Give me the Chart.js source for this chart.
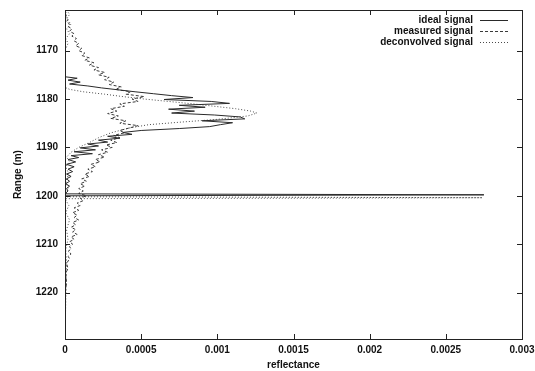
<!DOCTYPE html>
<html>
<head>
<meta charset="utf-8">
<script src="https://cdn.jsdelivr.net/npm/chart.js@4.4.1/dist/chart.umd.min.js"></script>
<style>
  html, body { margin: 0; padding: 0; background: #fff; }
  canvas { display: block; }
</style>
</head>
<body>
<canvas id="chart" width="535" height="371"></canvas>
<script>
// data (range in m, reflectance)
const xTicks = [0, 0.0005, 0.001, 0.0015, 0.002, 0.0025, 0.003];
const xTickLabels = ['0', '0.0005', '0.001', '0.0015', '0.002', '0.0025', '0.003'];
const yTicks = [1170, 1180, 1190, 1200, 1210, 1220];
const yTickLabels = ['1170', '1180', '1190', '1200', '1210', '1220'];

const seriesNames = ['ideal signal', 'measured signal', 'deconvolved signal'];

const idealRange = [
  1161.6, 1175.4, 1175.7, 1176.1, 1176.5, 1176.9, 1177.3, 1177.7, 1178.1, 1178.5,
  1178.9, 1179.3, 1179.7, 1180.1, 1180.5, 1180.9, 1181.3, 1181.7, 1182.1, 1182.5,
  1182.9, 1183.3, 1183.7, 1184.1, 1184.5, 1184.9, 1185.3, 1185.7, 1186.1, 1186.5,
  1186.9, 1187.3, 1187.7, 1188.1, 1188.5, 1188.9, 1189.3, 1189.7, 1190.1, 1190.5,
  1190.9, 1191.3, 1191.7, 1192.1, 1192.5, 1193.0, 1193.5, 1194.0, 1194.5, 1195.0,
  1195.5, 1196.0, 1196.5, 1197.0, 1197.5, 1198.0, 1198.5, 1199.0, 1199.6, 1199.8,
  1200.0, 1229.6
];
const idealValue = [
  0, 0, 0.8e-4, 0.2e-4, 1.0e-4, 0.3e-4, 1.5e-4, 2.4e-4, 3.5e-4, 4.6e-4,
  5.8e-4, 7.0e-4, 8.4e-4, 6.5e-4, 9.6e-4, 10.8e-4, 7.5e-4, 9.2e-4, 6.8e-4, 8.5e-4,
  7.0e-4, 9.8e-4, 11.5e-4, 11.8e-4, 9.0e-4, 11.0e-4, 10.2e-4, 9.5e-4, 7.5e-4, 5.0e-4,
  3.8e-4, 4.4e-4, 2.8e-4, 3.6e-4, 2.2e-4, 2.8e-4, 1.5e-4, 2.2e-4, 1.0e-4, 2.0e-4,
  0.6e-4, 1.8e-4, 0.4e-4, 0.9e-4, 0.2e-4, 0.7e-4, 0.1e-4, 0.6e-4, 0.2e-4, 0.5e-4,
  0.1e-4, 0.4e-4, 0.1e-4, 0.3e-4, 0.05e-4, 0.3e-4, 0.1e-4, 0.2e-4, 0, 27.5e-4,
  0, 0
];

const measuredRange = [
  1161.6, 1162.5, 1163.0, 1163.5, 1164.0, 1164.5, 1165.0, 1165.5, 1166.0, 1166.5,
  1167.0, 1167.5, 1168.0, 1168.5, 1169.0, 1169.5, 1170.0, 1170.5, 1171.0, 1171.5,
  1172.0, 1172.5, 1173.0, 1173.5, 1174.0, 1174.5, 1175.0, 1175.5, 1176.0, 1176.5,
  1177.0, 1177.5, 1178.0, 1178.5, 1179.0, 1179.5, 1180.0, 1180.5, 1181.0, 1181.5,
  1182.0, 1182.5, 1183.0, 1183.5, 1184.0, 1184.5, 1185.0, 1185.5, 1186.0, 1186.5,
  1187.0, 1187.5, 1188.0, 1188.5, 1189.0, 1189.5, 1190.0, 1190.5, 1191.0, 1191.5,
  1192.0, 1192.5, 1193.0, 1193.5, 1194.0, 1194.5, 1195.0, 1195.5, 1196.0, 1196.5,
  1197.0, 1197.5, 1198.0, 1198.5, 1199.0, 1199.5, 1200.0, 1200.5, 1201.0, 1201.5,
  1202.0, 1202.5, 1203.0, 1203.5, 1204.0, 1204.5, 1205.0, 1205.5, 1206.0, 1206.5,
  1207.0, 1207.5, 1208.0, 1208.5, 1209.0, 1209.5, 1210.0, 1210.5, 1211.0, 1211.5,
  1212.0, 1212.5, 1213.0, 1214.0, 1215.0, 1216.0, 1218.0, 1220.0, 1229.6
];
const measuredValue = [
  0, 0.1e-4, 0.05e-4, 0.2e-4, 0.1e-4, 0.3e-4, 0.2e-4, 0.45e-4, 0.3e-4, 0.6e-4,
  0.45e-4, 0.75e-4, 0.6e-4, 0.9e-4, 0.7e-4, 1.1e-4, 0.9e-4, 1.3e-4, 1.1e-4, 1.6e-4,
  1.3e-4, 1.9e-4, 1.6e-4, 2.2e-4, 1.9e-4, 2.6e-4, 2.2e-4, 2.9e-4, 2.6e-4, 3.2e-4,
  2.9e-4, 3.7e-4, 3.3e-4, 4.3e-4, 4.0e-4, 5.2e-4, 4.4e-4, 4.8e-4, 3.6e-4, 3.9e-4,
  3.0e-4, 3.4e-4, 2.8e-4, 3.5e-4, 3.0e-4, 4.0e-4, 3.6e-4, 4.8e-4, 4.2e-4, 3.6e-4,
  3.9e-4, 3.2e-4, 3.6e-4, 3.0e-4, 3.4e-4, 2.7e-4, 3.1e-4, 2.4e-4, 2.8e-4, 2.2e-4,
  2.6e-4, 2.0e-4, 2.3e-4, 1.7e-4, 2.0e-4, 1.5e-4, 1.8e-4, 1.3e-4, 1.6e-4, 1.1e-4,
  1.4e-4, 1.0e-4, 1.3e-4, 0.9e-4, 1.2e-4, 0.9e-4, 1.4e-4, 1.0e-4, 1.2e-4, 0.8e-4,
  1.0e-4, 0.6e-4, 0.9e-4, 0.5e-4, 0.8e-4, 0.6e-4, 0.9e-4, 0.5e-4, 0.7e-4, 0.4e-4,
  0.7e-4, 0.5e-4, 0.8e-4, 0.4e-4, 0.6e-4, 0.3e-4, 0.5e-4, 0.3e-4, 0.4e-4, 0.2e-4,
  0.4e-4, 0.2e-4, 0.3e-4, 0.1e-4, 0.2e-4, 0.05e-4, 0.1e-4, 0.02e-4, 0
];

const deconvRange = [
  1161.6, 1162.5, 1163.5, 1164.5, 1165.5, 1166.5, 1167.5, 1168.5, 1170.0, 1177.6,
  1178.0, 1178.5, 1179.0, 1179.5, 1180.0, 1180.5, 1181.0, 1181.5, 1182.0, 1182.5,
  1182.9, 1183.5, 1184.2, 1184.8, 1185.3, 1186.0, 1187.0, 1188.0, 1189.0, 1190.0,
  1191.0, 1192.0, 1193.0, 1194.0, 1195.5, 1197.0, 1198.5, 1200.2, 1200.4, 1200.6,
  1202.0, 1203.5, 1205.0, 1207.0, 1209.0, 1211.0, 1214.0, 1229.6
];
const deconvValue = [
  0.1e-4, 0.3e-4, 0.1e-4, 0.4e-4, 0.1e-4, 0.3e-4, 0.05e-4, 0.2e-4, 0, 0,
  0.3e-4, 1.2e-4, 2.6e-4, 3.8e-4, 5.2e-4, 6.8e-4, 8.4e-4, 9.8e-4, 11.2e-4, 12.2e-4,
  12.6e-4, 12.0e-4, 10.0e-4, 7.5e-4, 5.5e-4, 4.2e-4, 3.0e-4, 2.2e-4, 1.6e-4, 0.9e-4,
  0.4e-4, 0.1e-4, 0.3e-4, 0.05e-4, 0.25e-4, 0.05e-4, 0.2e-4, 0, 27.4e-4, 0,
  0.25e-4, 0.05e-4, 0.3e-4, 0.1e-4, 0.2e-4, 0.05e-4, 0.1e-4, 0
];

function pairs(range, values) {
  return range.map((r, i) => ({ x: values[i], y: r }));
}

Chart.defaults.font.family = '"Liberation Sans", Arial, sans-serif';
Chart.defaults.font.size = 10;
Chart.defaults.font.weight = 'bold';
Chart.defaults.color = '#111';

const lineStyles = [
  { color: '#2a2a2a', dash: [] },
  { color: '#3a3a3a', dash: [3, 2] },
  { color: '#4a4a4a', dash: [1, 2] }
];

// frame, inward ticks and gnuplot-style legend
const framePlugin = {
  id: 'frame',
  afterDraw(chart) {
    const { ctx, chartArea: a, scales } = chart;
    ctx.save();
    ctx.strokeStyle = '#222';
    ctx.lineWidth = 1;
    ctx.strokeRect(a.left + 0.5, a.top + 0.5, a.right - a.left, a.bottom - a.top);
    ctx.beginPath();
    scales.x.ticks.forEach(t => {
      const px = Math.round(scales.x.getPixelForValue(t.value)) + 0.5;
      ctx.moveTo(px, a.bottom); ctx.lineTo(px, a.bottom - 5);
      ctx.moveTo(px, a.top); ctx.lineTo(px, a.top + 5);
    });
    scales.y.ticks.forEach(t => {
      const py = Math.round(scales.y.getPixelForValue(t.value)) + 0.5;
      ctx.moveTo(a.left, py); ctx.lineTo(a.left + 5, py);
      ctx.moveTo(a.right, py); ctx.lineTo(a.right - 5, py);
    });
    ctx.stroke();

    ctx.font = 'bold 10px "Liberation Sans", Arial, sans-serif';
    ctx.textAlign = 'right';
    ctx.textBaseline = 'middle';
    seriesNames.forEach((name, i) => {
      const y = a.top + 10 + i * 11;
      ctx.fillStyle = '#111';
      ctx.fillText(name, a.right - 49, y);
      ctx.beginPath();
      ctx.setLineDash(lineStyles[i].dash);
      ctx.strokeStyle = lineStyles[i].color;
      ctx.moveTo(a.right - 42, y + 0.5);
      ctx.lineTo(a.right - 14, y + 0.5);
      ctx.stroke();
    });
    ctx.restore();
  }
};

const allSeries = [
  pairs(idealRange, idealValue),
  pairs(measuredRange, measuredValue),
  pairs(deconvRange, deconvValue)
];

new Chart(document.getElementById('chart'), {
  type: 'scatter',
  data: {
    datasets: allSeries.map((d, i) => ({
      label: seriesNames[i],
      data: d,
      showLine: true,
      borderColor: lineStyles[i].color,
      borderDash: lineStyles[i].dash,
      borderWidth: 1,
      pointRadius: 0,
      tension: 0
    }))
  },
  options: {
    responsive: false,
    animation: false,
    events: [],
    layout: { padding: { top: 10, right: 13, left: 0, bottom: 0 } },
    plugins: { legend: { display: false }, tooltip: { enabled: false } },
    scales: {
      x: {
        type: 'linear',
        min: 0,
        max: 0.003,
        grid: { display: false, drawTicks: false },
        border: { display: false },
        afterBuildTicks: s => { s.ticks = xTicks.map(v => ({ value: v })); },
        afterFit: s => { s.height = 32; s.paddingLeft = 0; s.paddingRight = 0; },
        ticks: { padding: 5, maxRotation: 0, autoSkip: false, callback: (v, i) => xTickLabels[i] },
        title: { display: true, text: 'reflectance', padding: { top: 0, bottom: 0 } }
      },
      y: {
        type: 'linear',
        reverse: true,
        min: 1161.6,
        max: 1229.6,
        grid: { display: false, drawTicks: false },
        border: { display: false },
        afterBuildTicks: s => { s.ticks = yTicks.map(v => ({ value: v })); },
        afterFit: s => { s.width = 65; s.paddingTop = 0; s.paddingBottom = 0; },
        ticks: { padding: 7, autoSkip: false, callback: (v, i) => yTickLabels[i] },
        title: { display: true, text: 'Range (m)', padding: { top: 12, bottom: 0 } }
      }
    }
  },
  plugins: [framePlugin]
});
</script>
</body>
</html>
